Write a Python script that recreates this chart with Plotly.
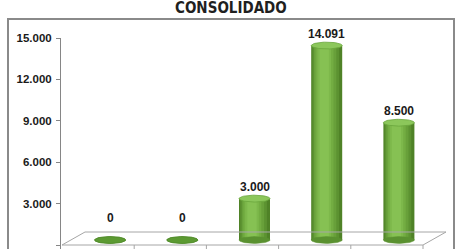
import numpy as np
import plotly.graph_objects as go

# ---- data ----
categories = ["C1", "C2", "C3", "C4", "C5"]
values = [0, 0, 3000, 14091, 8500]
tick_values = [0, 3000, 6000, 9000, 12000, 15000]
tick_labels = ["0", "3.000", "6.000", "9.000", "12.000", "15.000"]
title_text = "CONSOLIDADO"

# ---- layout geometry (pixels) ----
W, H = 457, 249
L, R, T, B = 61, 449, 38, 0
PW, PH = (R - L), H - T - B
front_x0 = 62            # px where category 0 begins on the front floor edge
cat_px = (423 - 62) / 5  # px per category
zero_px = 245            # px of value 0 on visible axis
ypx = (zero_px - T) / 15000.0  # px per unit
y_lo = -(H - B - zero_px) / ypx
x_lo = (L - front_x0) / cat_px
x_hi = (R - front_x0) / cat_px
depth_dx = 23 / cat_px
depth_dy = 13 / ypx
bar_lift = 5 / ypx
bar_shift = 12 / cat_px
bar_w = 31 / cat_px

def fmt(v):
    return f"{v:,}".replace(",", ".")

fig = go.Figure()

xs = [i + 0.5 + bar_shift for i in range(len(categories))]
theta = np.linspace(0, 2 * np.pi, 60)
ea = bar_w / 2
eb = 3.4 / ypx

# bottom ellipses (behind bars)
for x, v in zip(xs, values):
    fig.add_trace(go.Scatter(
        x=x + ea * np.cos(theta), y=0 + eb * np.sin(theta), yaxis="y2",
        mode="lines", fill="toself", fillcolor="#5a9130",
        line=dict(color="#5a9130", width=0.5), hoverinfo="skip", showlegend=False))

# cylinder body as overlaid bars (gradient layers)
layers = [
    (1.00, 0.00, "#4f8227"),
    (0.86, -0.03, "#5c9231"),
    (0.72, -0.05, "#68a03a"),
    (0.58, -0.07, "#73ad42"),
    (0.44, -0.08, "#7db84b"),
    (0.30, -0.08, "#86c153"),
]
for wf, cf, col in layers:
    w = bar_w * wf
    fig.add_trace(go.Bar(
        x=xs, y=values, yaxis="y2", width=w, offset=-w / 2 + cf * bar_w,
        marker=dict(color=col, line=dict(width=0)), hoverinfo="skip", showlegend=False))

# top caps
for x, v in zip(xs, values):
    col = "#8cc75b" if v > 0 else "#5c9a32"
    fig.add_trace(go.Scatter(
        x=x + ea * np.cos(theta), y=v + eb * np.sin(theta), yaxis="y2",
        mode="lines", fill="toself", fillcolor=col,
        line=dict(color="#6aa63c" if v > 0 else "#4f8a2a", width=0.8),
        hoverinfo="skip", showlegend=False))

# floor (3D base) shapes
gray = "#a6a6a6"
shapes = [
    dict(type="line", xref="x", yref="y", x0=0, y0=0, x1=5, y1=0, line=dict(color=gray, width=1)),
    dict(type="line", xref="x", yref="y", x0=depth_dx, y0=depth_dy, x1=5 + depth_dx, y1=depth_dy, line=dict(color=gray, width=1)),
    dict(type="line", xref="x", yref="y", x0=0, y0=0, x1=depth_dx, y1=depth_dy, line=dict(color=gray, width=1)),
    dict(type="line", xref="x", yref="y", x0=5, y0=0, x1=5 + depth_dx, y1=depth_dy, line=dict(color=gray, width=1)),
]
for k in range(1, 6):
    shapes.append(dict(type="line", xref="x", yref="y", x0=k, y0=0, x1=k, y1=y_lo,
                       line=dict(color=gray, width=1)))
# chart border
shapes.append(dict(type="rect", xref="paper", yref="paper",
                   x0=(8 - L) / PW, x1=(454 - L) / PW,
                   y0=-0.1, y1=(H - 19 - B) / PH,
                   line=dict(color="#8a8a8a", width=2), layer="below"))

annotations = []
for x, v in zip(xs, values):
    annotations.append(dict(
        x=x, y=v, xref="x", yref="y2", text=fmt(v), showarrow=False,
        yanchor="middle", yshift=(22 if v == 0 else 12),
        font=dict(family="Liberation Sans, Arial, sans-serif", size=12, color="#1a1a1a", weight="bold")))
annotations.append(dict(
    x=(231 - L) / PW, y=(H - 8 - B) / PH, xref="paper", yref="paper",
    text=title_text, showarrow=False, xanchor="center", yanchor="middle",
    font=dict(family="DejaVu Sans Condensed, sans-serif",
              size=15, color="#1f1f1f", weight="bold")))

fig.update_layout(
    width=W, height=H,
    margin=dict(l=L, r=W - R, t=T, b=B, pad=0),
    paper_bgcolor="white", plot_bgcolor="white",
    barmode="overlay",
    showlegend=False,
    hovermode=False,
    xaxis=dict(range=[x_lo, x_hi], showgrid=False, zeroline=False, showline=False,
               showticklabels=False, ticks="", fixedrange=True),
    yaxis=dict(range=[y_lo, 15000], tickvals=tick_values, ticktext=tick_labels,
               showgrid=False, zeroline=False, showline=True, linecolor="#868686", linewidth=1,
               ticks="outside", ticklen=4, tickcolor="#868686", fixedrange=True,
               tickfont=dict(family="Liberation Sans, Arial, sans-serif", size=11.5, color="#1a1a1a", weight="bold"),
               ticklabelstandoff=2),
    yaxis2=dict(range=[y_lo - bar_lift, 15000 - bar_lift], overlaying="y", visible=False, fixedrange=True),
    shapes=shapes,
    annotations=annotations,
)

fig.write_html("out.html", config={"displayModeBar": False, "staticPlot": True},
               post_script="document.body.style.margin='0';document.body.style.overflow='hidden';")
